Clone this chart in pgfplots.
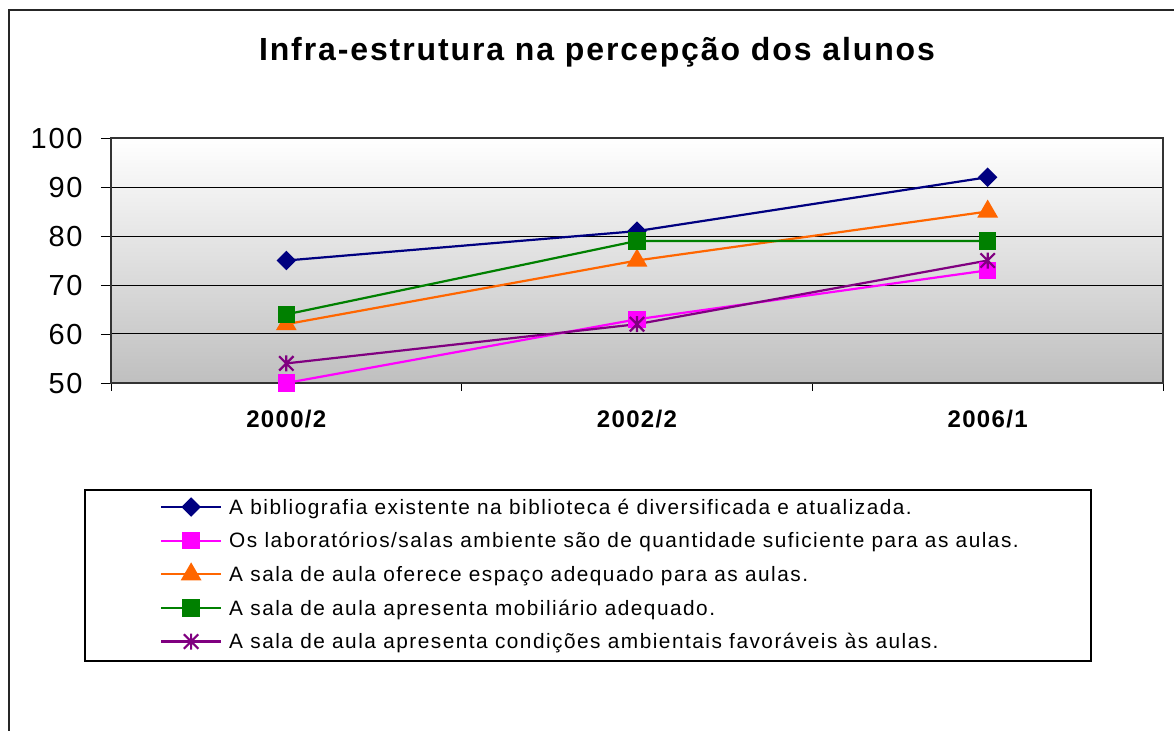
\documentclass[border=0pt]{standalone}
\usepackage{pgfplots}
\pgfplotsset{compat=1.18}
\usepackage{fontspec}
\setmainfont{Liberation Sans}
\newfontfamily\titlefont[LetterSpace=5.9]{Liberation Sans}
\newfontfamily\tickfont[LetterSpace=6]{Liberation Sans}
\newfontfamily\xlabfont[LetterSpace=5.5]{Liberation Sans}
\newfontfamily\legfont[LetterSpace=7.2]{Liberation Sans}
\definecolor{cnavy}{RGB}{0,0,128}
\definecolor{cmag}{RGB}{255,0,255}
\definecolor{corange}{RGB}{255,102,0}
\definecolor{cgreen}{RGB}{0,128,0}
\definecolor{cpurple}{RGB}{128,0,128}
\pgfdeclareplotmark{xstar}{%
\pgfpathmoveto{\pgfqpoint{0pt}{\pgfplotmarksize}}%
\pgfpathlineto{\pgfqpoint{0pt}{-\pgfplotmarksize}}%
\pgfpathmoveto{\pgfqpoint{-0.9\pgfplotmarksize}{-0.9\pgfplotmarksize}}%
\pgfpathlineto{\pgfqpoint{0.9\pgfplotmarksize}{0.9\pgfplotmarksize}}%
\pgfpathmoveto{\pgfqpoint{-0.9\pgfplotmarksize}{0.9\pgfplotmarksize}}%
\pgfpathlineto{\pgfqpoint{0.9\pgfplotmarksize}{-0.9\pgfplotmarksize}}%
\pgfusepathqstroke}
\begin{document}
\begin{tikzpicture}
\path[use as bounding box] (0pt,0pt) rectangle (587pt,-365.5pt);
\draw[line width=0.8pt, black!85] (4.5pt,-366pt) -- (4.5pt,-5pt) -- (588pt,-5pt);
\draw[line width=0.6pt, black] (42.5pt,-245pt) rectangle (545.5pt,-330.5pt);
\node[anchor=base, inner sep=0pt] at (298.5pt,-30.5pt) {\titlefont\fontsize{16pt}{19pt}\selectfont\bfseries Infra-estrutura na percepção dos alunos};
\begin{axis}[
  at={(55.5pt,-191.5pt)}, anchor=south west,
  width=526pt, height=122.5pt, scale only axis,
  xmin=-0.5, xmax=2.5, ymin=50, ymax=100,
  clip=false,
  xtick={0,1,2},
  xticklabels={2000/2,2002/2,2006/1},
  minor xtick={-0.5,0.5,1.5,2.5},
  major x tick style={draw=none},
  minor x tick style={black},
  minor tick length=4pt,
  major tick length=5pt,
  tick align=outside,
  xtick pos=bottom, ytick pos=left,
  ytick={50,60,70,80,90,100},
  ymajorgrids,
  grid style={black, line width=0.5pt},
  axis line style={black!80, line width=0.6pt},
  y tick style={black},
  axis background/.style={top color=white, bottom color=black!25},
  xticklabel style={font=\xlabfont\fontsize{12pt}{14pt}\selectfont\bfseries, anchor=base, inner sep=0pt, yshift=-17.5pt},
  yticklabel style={font=\tickfont\fontsize{14.5pt}{17pt}\selectfont, anchor=base east, inner sep=0pt, xshift=-9pt, yshift=-5.2pt},
  /pgf/number format/assume math mode=true,
  legend image code/.code={\path[draw=none, fill=none] (0pt,-3pt) -- (0pt,9pt); \draw[mark repeat=2,mark phase=2,#1] plot coordinates {(0pt,0.5pt) (15pt,0.5pt) (30pt,0.5pt)};},
  legend cell align=left,
  legend style={draw=none, fill=none, at={(axis description cs:0.0466,-0.4368)}, anchor=north west,
    inner sep=0pt, outer sep=0pt, font=\legfont\fontsize{10.4pt}{12pt}\selectfont,
    row sep=3.25pt,
    nodes={inner xsep=3.5pt, inner ysep=0pt}},
]
\addplot[cnavy, line width=1.1pt, mark=square*, mark size=2.9pt, mark options={rotate=45, solid, fill=cnavy}] coordinates {(0,75) (1,81) (2,92)};
\addlegendentry{A bibliografia existente na biblioteca é diversificada e atualizada.}
\addplot[cmag, line width=1.1pt, mark=square*, mark size=3.8pt, mark options={solid, fill=cmag}] coordinates {(0,50) (1,63) (2,73)};
\addlegendentry{Os laboratórios/salas ambiente são de quantidade suficiente para as aulas.}
\addplot[corange, line width=1.1pt, mark=triangle*, mark size=4.9pt, mark options={solid, fill=corange}] coordinates {(0,62) (1,75) (2,85)};
\addlegendentry{A sala de aula oferece espaço adequado para as aulas.}
\addplot[cgreen, line width=1.1pt, mark=square*, mark size=3.8pt, mark options={solid, fill=cgreen}] coordinates {(0,64) (1,79) (2,79)};
\addlegendentry{A sala de aula apresenta mobiliário adequado.}
\addplot[cpurple, line width=1.1pt, mark=xstar, mark size=4pt, mark options={solid, line width=1.1pt}] coordinates {(0,54) (1,62) (2,75)};
\addlegendentry{A sala de aula apresenta condições ambientais favoráveis às aulas.}
\end{axis}
\end{tikzpicture}
\end{document}
